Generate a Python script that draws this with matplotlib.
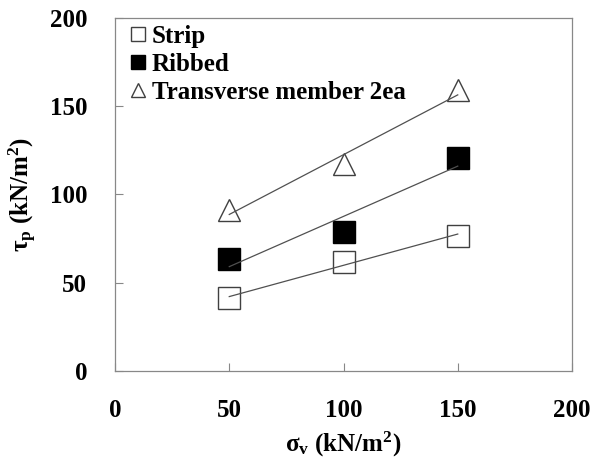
import numpy as np
import matplotlib
matplotlib.use("Agg")
import matplotlib.pyplot as plt

# values
sigma_v = [50, 100, 150]
strip = [41.2, 61.7, 76.6]
ribbed = [63.4, 78.9, 120.3]
transverse = [91.3, 117.1, 159.0]
labels = ["Strip", "Ribbed", "Transverse member 2ea"]
ticks = [0, 50, 100, 150, 200]

plt.rcParams['font.family'] = ['Liberation Serif', 'DejaVu Serif']
plt.rcParams['font.weight'] = 'bold'
plt.rcParams['mathtext.fontset'] = 'custom'
plt.rcParams['mathtext.rm'] = 'Liberation Serif:bold'
plt.rcParams['mathtext.it'] = 'Liberation Serif:bold'
plt.rcParams['mathtext.bf'] = 'Liberation Serif:bold'

fs = 18

fig = plt.figure(figsize=(5.92, 4.61), dpi=100)
ax = fig.add_axes([0.1943, 0.1952, 0.7719, 0.7664])

series = [
    (strip, dict(marker='s', mfc='white', mec='#404040')),
    (ribbed, dict(marker='s', mfc='black', mec='black')),
    (transverse, dict(marker='^', mfc='white', mec='#404040')),
]
for (vals, style), lab in zip(series, labels):
    k, b = np.polyfit(sigma_v, vals, 1)
    xs = np.array([sigma_v[0], sigma_v[-1]])
    ax.plot(xs, k * xs + b, color='#505050', lw=0.9, zorder=3)
    ax.plot(sigma_v, vals, ls='none', ms=15.5, mew=1.0, label=lab,
            zorder=2, **style)

ax.set_xlim(0, 200)
ax.set_ylim(0, 200)
ax.set_xticks(ticks)
ax.set_yticks(ticks)
ax.tick_params(direction='in', length=5.5, width=0.8, color='#888888',
               labelsize=fs, pad=20)
for s in ax.spines.values():
    s.set_color('#888888')
    s.set_linewidth(0.9)

ax.set_xlabel(r'σ$_\mathrm{v}$ (kN/m$^\mathrm{2}$)', fontsize=fs,
              fontweight='bold', labelpad=6)
ax.set_ylabel(r'τ$_\mathrm{p}$ (kN/m$^\mathrm{2}$)', fontsize=fs,
              fontweight='bold', labelpad=8)

leg = ax.legend(loc='upper left', bbox_to_anchor=(0.007, 1.015), frameon=False,
                fontsize=fs, markerscale=0.65, handlelength=0.6,
                handletextpad=0.25, labelspacing=0.2, borderaxespad=0.3,
                borderpad=0.2)

fig.savefig('out.png', dpi=100)
